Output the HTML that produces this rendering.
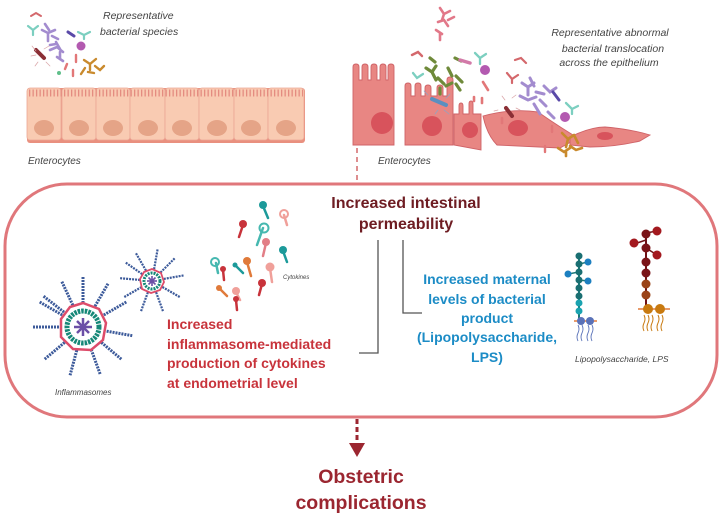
<!DOCTYPE html>
<html><head><meta charset="utf-8"><style>
html,body{margin:0;padding:0;background:#fff;}
svg{display:block;}
text{font-family:"Liberation Sans",Arial,sans-serif;}
.it{font-style:italic;fill:#444;}
</style></head><body>
<svg width="724" height="517" viewBox="0 0 724 517" xmlns="http://www.w3.org/2000/svg">
<defs>
<g id="spk"><line x1="0" y1="-24" x2="0" y2="-50" stroke="#3c5a9a" stroke-width="3" stroke-dasharray="2 1"/></g>
<g id="spks"><line x1="0" y1="-12" x2="0" y2="-33" stroke="#3c5a9a" stroke-width="2.2" stroke-dasharray="2 1"/></g>
</defs>

<!-- LEFT EPITHELIUM -->
<g>
<rect x="27" y="88" width="278" height="55" rx="3" fill="#e9907f"/>
<g fill="#f9cbb2" stroke="#eba795" stroke-width="0.8">
<rect x="27" y="88" width="34" height="52" rx="3"/><rect x="62" y="88" width="34" height="52" rx="3"/>
<rect x="96" y="88" width="34" height="52" rx="3"/><rect x="130" y="88" width="35" height="52" rx="3"/>
<rect x="165" y="88" width="34" height="52" rx="3"/><rect x="199" y="88" width="35" height="52" rx="3"/>
<rect x="234" y="88" width="34" height="52" rx="3"/><rect x="268" y="88" width="36" height="52" rx="3"/>
</g>
<line x1="29" y1="93" x2="303" y2="93" stroke="#e48c80" stroke-width="7" stroke-dasharray="1.3 2.2"/>
<g fill="#e5a487">
<ellipse cx="44" cy="128" rx="10" ry="8"/><ellipse cx="79" cy="128" rx="10" ry="8"/><ellipse cx="113" cy="128" rx="10" ry="8"/><ellipse cx="148" cy="128" rx="10" ry="8"/>
<ellipse cx="182" cy="128" rx="10" ry="8"/><ellipse cx="217" cy="128" rx="10" ry="8"/><ellipse cx="251" cy="128" rx="10" ry="8"/><ellipse cx="286" cy="128" rx="10" ry="8"/>
</g>
</g>
<!-- left bacteria -->
<g stroke-linecap="round" fill="none">
<path d="M31 16 l5 -3 l5 3" stroke="#d4686c" stroke-width="2"/>
<path d="M28 26 l5 4 l5 -4 M33 30 v5" stroke="#7ccfc0" stroke-width="2.2"/>
<path d="M42 30 l6 3 l7 -3 M48 33 v8 M45 24 l4 6 M52 36 l6 3 M56 42 l4 7 M50 45 l6 -1" stroke="#a38ccf" stroke-width="2.6"/>
<path d="M50 50 l7 -3 l6 5 M60 52 v7 M57 57 l6 4" stroke="#a38ccf" stroke-width="2.6"/>
<path d="M68 32 l6 4" stroke="#5a4aa8" stroke-width="3"/>
<path d="M78 32 l6 3 l6 -3 M84 35 v4" stroke="#7ccfc0" stroke-width="2.2"/>
<path d="M36 50 l8 8" stroke="#8b2f35" stroke-width="4"/>
<path d="M32 46 l4 5 M46 62 l4 4 M31 56 l5 -1 M44 49 l5 -3 M38 62 l-3 4" stroke="#d9a3a6" stroke-width="0.7"/>
<path d="M76 55 v7 M67 64 l-2 5 M73 70 v6" stroke="#e27778" stroke-width="2.4"/>
<path d="M84 60 l6 4 l6 -5 M90 64 v6 M85 68 l-4 6 M95 66 l5 4 l4 -4 M88 72 l6 1" stroke="#c98a2d" stroke-width="2.4"/>
</g>
<circle cx="81" cy="46" r="4.5" fill="#b35ab0"/>
<circle cx="59" cy="73" r="2" fill="#5fbf8a"/>
<text class="it" x="103" y="19" font-size="10.5">Representative</text>
<text class="it" x="100" y="35" font-size="10.5">bacterial species</text>
<text class="it" x="28" y="164" font-size="10">Enterocytes</text>

<!-- RIGHT EPITHELIUM -->
<g fill="#e88683" stroke="#cf6267" stroke-width="0.9">
<path d="M353 145 V67 q0 -3 3 -3 q3 0 3 3 V80 h3 V67 q0 -3 3 -3 q3 0 3 3 V80 h3 V67 q0 -3 3 -3 q3 0 3 3 V80 h3 V67 q0 -3 3 -3 q3 0 3 3 V80 h2 V67 q0 -3 3 -3 q3 0 3 3 V145 Z"/>
<path d="M405 145 V86 q0 -3 3 -3 q3 0 3 3 V96 h4 V86 q0 -3 3 -3 q3 0 3 3 V96 h4 V88 q0 -3 3 -3 q3 0 3 3 V96 h6 V88 q0 -3 3 -3 q3 0 3 3 V96 h4 V80 q0 -3 3 -3 q3 0 3 3 V145 Z"/>
<path d="M454 145 V114 h5 V106 q0 -3 2 -3 q2 0 2 3 V114 h6 V104 q0 -3 2 -3 q2 0 2 3 V114 h8 V150 Z"/>
<path d="M483 116 q30 -8 55 -4 q20 14 40 26 L560 148 L497 145 q-10 -10 -14 -29 Z"/>
<path d="M570 137 q20 -10 35 -10 q25 2 45 8 l-10 6 q-25 6 -50 6 l-20 -2 Z"/>
</g>
<g fill="#d8535c">
<circle cx="382" cy="123" r="11"/><circle cx="432" cy="126" r="10"/><circle cx="470" cy="130" r="8"/><ellipse cx="518" cy="128" rx="10" ry="8"/><ellipse cx="605" cy="136" rx="8" ry="4"/>
</g>
<line x1="357" y1="148" x2="357" y2="183" stroke="#d4686c" stroke-width="1.5" stroke-dasharray="5 4"/>
<!-- right bacteria -->
<g stroke-linecap="round" fill="none">
<path d="M440 8 l4 6 l6 -3 M444 14 l-2 6 M438 22 l6 -2 l4 6 M448 20 l6 -3 M436 30 l6 4 M440 34 v6" stroke="#e27889" stroke-width="2.6"/>
<path d="M412 55 l6 -3 l4 4" stroke="#d4686c" stroke-width="2.4"/>
<path d="M430 58 l5 4 M455 58 l6 3 M426 68 l6 4 l4 -6 M432 72 l4 8 M438 78 l6 6 M448 68 l4 8 M446 86 l6 -3 M456 84 l4 6 M440 88 v6 M456 76 l6 6" stroke="#6f8a3a" stroke-width="3.2"/>
<path d="M460 60 l10 3" stroke="#d27aa8" stroke-width="3.5"/>
<path d="M475 53 l5 5 l6 -4 M480 58 v6" stroke="#7ccfc0" stroke-width="2.3"/>
<path d="M413 73 l4 5 l6 -4" stroke="#7ccfc0" stroke-width="2.3"/>
<path d="M483 82 l5 8 M474 97 v4 M482 98 v5 M502 118 v5" stroke="#e27778" stroke-width="2.6"/>
<path d="M432 99 l14 6" stroke="#5a8fc0" stroke-width="4"/>
<path d="M428 95 l-4 -4 M438 110 l-3 4 M446 98 l4 -4 M444 110 l5 4" stroke="#8aa6c7" stroke-width="0.7"/>
<path d="M515 60 l6 -2 l5 5 M507 73 l5 6 l6 -4 M512 79 v4" stroke="#d4686c" stroke-width="2.2"/>
<path d="M522 83 l6 4 l6 -4 M528 87 v8 M530 78 l4 8 M520 96 l8 4 l8 -3 M536 92 l8 2 M540 100 l6 6 M534 104 l6 10 M544 86 l6 6 l6 -4 M548 112 l6 6" stroke="#a38ccf" stroke-width="3"/>
<path d="M553 92 l6 8" stroke="#5a4aa8" stroke-width="3"/>
<path d="M566 103 l6 6 l6 -3 M572 109 v5" stroke="#7ccfc0" stroke-width="2.3"/>
<path d="M506 108 l6 8" stroke="#8b2f35" stroke-width="4"/>
<path d="M505 100 l-3 -4 M512 98 l4 -3 M498 110 l-4 1 M516 108 l4 2" stroke="#d9a3a6" stroke-width="0.7"/>
<path d="M552 126 v6 M545 146 v6" stroke="#e27778" stroke-width="2.4"/>
<path d="M562 133 l6 6 l6 -4 M568 139 l-2 8 M558 148 l6 4 l6 -4 M570 146 l6 4 l6 -2 M574 135 l4 8 M566 152 v4" stroke="#c98a2d" stroke-width="2.6"/>
</g>
<circle cx="485" cy="70" r="5" fill="#b35ab0"/><circle cx="565" cy="117" r="5" fill="#b35ab0"/>
<text class="it" x="610" y="36" font-size="10.5" text-anchor="middle">Representative abnormal</text>
<text class="it" x="613" y="52" font-size="10.5" text-anchor="middle">bacterial translocation</text>
<text class="it" x="609" y="66" font-size="10.5" text-anchor="middle">across the epithelium</text>
<text class="it" x="378" y="164" font-size="10">Enterocytes</text>

<!-- BIG BOX -->
<rect x="5" y="184" width="712" height="233" rx="62" fill="none" stroke="#e0777b" stroke-width="3"/>

<text x="406" y="208" font-size="16" font-weight="bold" fill="#6e1c22" text-anchor="middle">Increased intestinal</text>
<text x="406" y="229" font-size="16" font-weight="bold" fill="#6e1c22" text-anchor="middle">permeability</text>
<path d="M378 240 V353 H359" stroke="#555" stroke-width="1.3" fill="none"/>
<path d="M403 240 V313 H422" stroke="#555" stroke-width="1.3" fill="none"/>

<g font-size="14" font-weight="bold" fill="#1c8cc6" text-anchor="middle">
<text x="487" y="284">Increased maternal</text>
<text x="487" y="304">levels of bacterial</text>
<text x="487" y="323">product</text>
<text x="487" y="342">(Lipopolysaccharide,</text>
<text x="487" y="362">LPS)</text>
</g>
<g font-size="14" font-weight="bold" fill="#c8333b">
<text x="167" y="329">Increased</text>
<text x="167" y="349">inflammasome-mediated</text>
<text x="167" y="368">production of cytokines</text>
<text x="167" y="388">at endometrial level</text>
</g>

<!-- inflammasomes -->
<g transform="translate(83 327)">
<use href="#spk" transform="rotate(0)"/><use href="#spk" transform="rotate(-25)"/><use href="#spk" transform="rotate(30)"/><use href="#spk" transform="rotate(60)"/><use href="#spk" transform="rotate(100)"/><use href="#spk" transform="rotate(130)"/><use href="#spk" transform="rotate(160)"/><use href="#spk" transform="rotate(195)"/><use href="#spk" transform="rotate(230)"/><use href="#spk" transform="rotate(270)"/><use href="#spk" transform="rotate(300)"/><use href="#spk" transform="rotate(-52)"/>
<polygon points="0,-24 16,-18 23,-4 20,13 8,23 -10,22 -22,10 -22,-8 -13,-20" fill="#fff" stroke="#dd4c6a" stroke-width="2.5"/>
<circle r="16" fill="none" stroke="#168878" stroke-width="5" stroke-dasharray="2.5 1"/>
<circle r="12" fill="#fff"/>
<g stroke="#6b4fa6" stroke-width="2.5"><line x1="-9" y1="0" x2="9" y2="0"/><line x1="0" y1="-9" x2="0" y2="9"/><line x1="-6" y1="-6" x2="6" y2="6"/><line x1="-6" y1="6" x2="6" y2="-6"/></g>
</g>
<g transform="translate(152 281)">
<use href="#spks" transform="rotate(-30)"/><use href="#spks" transform="rotate(10)"/><use href="#spks" transform="rotate(45)"/><use href="#spks" transform="rotate(80)"/><use href="#spks" transform="rotate(120)"/><use href="#spks" transform="rotate(160)"/><use href="#spks" transform="rotate(200)"/><use href="#spks" transform="rotate(240)"/><use href="#spks" transform="rotate(275)"/><use href="#spks" transform="rotate(305)"/>
<polygon points="0,-12 9,-8 12,1 8,9 -1,12 -10,8 -12,-2 -8,-9" fill="#fff" stroke="#dd4c6a" stroke-width="1.8"/>
<circle r="8" fill="none" stroke="#168878" stroke-width="3" stroke-dasharray="2 1"/>
<g stroke="#6b4fa6" stroke-width="1.6"><line x1="-5" y1="0" x2="5" y2="0"/><line x1="0" y1="-5" x2="0" y2="5"/><line x1="-3.5" y1="-3.5" x2="3.5" y2="3.5"/><line x1="-3.5" y1="3.5" x2="3.5" y2="-3.5"/></g>
</g>
<text class="it" x="55" y="395" font-size="8">Inflammasomes</text>

<!-- cytokines -->
<g stroke-linecap="round" stroke-width="2.5" fill="none">
<path d="M263 206 l5 12" stroke="#1c9a9a"/><path d="M243 225 l-4 12" stroke="#c8333b"/>
<path d="M263 228 l-6 17" stroke="#46b8b0"/><path d="M266 243 l-3 13" stroke="#e27e86"/>
<path d="M283 251 l4 11" stroke="#1c9a9a"/><path d="M284 215 l3 10" stroke="#f0a09a"/>
<path d="M216 263 l2 10" stroke="#46b8b0"/><path d="M223 270 l1 10" stroke="#c8333b"/>
<path d="M236 266 l7 7" stroke="#1c9a9a"/><path d="M247 262 l4 14" stroke="#e07a3a"/>
<path d="M270 268 l2 14" stroke="#f0a09a"/><path d="M262 284 l-3 11" stroke="#c8333b"/>
<path d="M220 289 l7 7" stroke="#e07a3a"/><path d="M236 292 l4 8" stroke="#f0a09a"/><path d="M236 300 l1 10" stroke="#c8333b"/>
</g>
<g>
<circle cx="263" cy="205" r="4" fill="#1c9a9a"/><circle cx="243" cy="224" r="4" fill="#c8333b"/>
<circle cx="264" cy="228" r="4.5" fill="none" stroke="#46b8b0" stroke-width="2"/><circle cx="266" cy="242" r="4" fill="#e27e86"/>
<circle cx="283" cy="250" r="4" fill="#1c9a9a"/><circle cx="284" cy="214" r="4" fill="none" stroke="#f0a09a" stroke-width="2"/>
<circle cx="215" cy="262" r="4" fill="none" stroke="#46b8b0" stroke-width="2"/><circle cx="223" cy="269" r="3" fill="#c8333b"/>
<circle cx="235" cy="265" r="2.5" fill="#1c9a9a"/><circle cx="247" cy="261" r="4" fill="#e07a3a"/>
<circle cx="270" cy="267" r="4.5" fill="#f0a09a"/><circle cx="262" cy="283" r="4" fill="#c8333b"/>
<circle cx="219" cy="288" r="3" fill="#e07a3a"/><circle cx="236" cy="291" r="4" fill="#f0a09a"/><circle cx="236" cy="299" r="3" fill="#c8333b"/>
</g>
<text class="it" x="283" y="279" font-size="6">Cytokines</text>

<!-- LPS small -->
<g>
<line x1="579" y1="256" x2="579" y2="320" stroke="#1a7777" stroke-width="2"/>
<line x1="579" y1="264" x2="588" y2="262" stroke="#1a7777" stroke-width="1.5"/><line x1="579" y1="272" x2="568" y2="274" stroke="#1a7777" stroke-width="1.5"/><line x1="579" y1="280" x2="588" y2="281" stroke="#1a7777" stroke-width="1.5"/>
<g fill="#1a6f72"><circle cx="579" cy="256" r="3.5"/><circle cx="579" cy="264" r="3.5"/><circle cx="579" cy="272" r="3.5"/><circle cx="579" cy="280" r="3.5"/><circle cx="579" cy="288" r="3.5"/><circle cx="579" cy="296" r="3.5"/></g>
<g fill="#1c7fc0"><circle cx="588" cy="262" r="3.5"/><circle cx="568" cy="274" r="3.5"/><circle cx="588" cy="281" r="3.5"/></g>
<g fill="#1aa3b0"><circle cx="579" cy="303" r="3.5"/><circle cx="579" cy="311" r="3.5"/></g>
<line x1="574" y1="321" x2="597" y2="321" stroke="#e07a3a" stroke-width="1.5"/>
<circle cx="581" cy="321" r="4" fill="#5a72b8"/><circle cx="590" cy="321" r="4" fill="#5a72b8"/>
<path d="M578 325 q2 4 0 8 q-2 4 0 8 M582 325 q2 4 0 8 q-2 4 0 8 M588 325 q2 4 0 8 q-2 4 0 8 M592 325 q2 4 0 8 q-2 4 0 8" stroke="#5a72b8" stroke-width="0.9" fill="none"/>
</g>
<!-- LPS large -->
<g>
<line x1="646" y1="233" x2="646" y2="309" stroke="#6e1216" stroke-width="2"/>
<line x1="646" y1="240" x2="634" y2="244" stroke="#6e1216" stroke-width="1.5"/><line x1="646" y1="248" x2="657" y2="255" stroke="#6e1216" stroke-width="1.5"/><line x1="646" y1="233" x2="657" y2="231" stroke="#6e1216" stroke-width="1.5"/>
<g fill="#7a1418"><circle cx="646" cy="234" r="4.5"/><circle cx="646" cy="248" r="4.5"/><circle cx="646" cy="262" r="4.5"/><circle cx="646" cy="273" r="4.5"/></g>
<g fill="#a3191f"><circle cx="657" cy="231" r="4.5"/><circle cx="634" cy="243" r="4.5"/><circle cx="657" cy="255" r="4.5"/></g>
<g fill="#9a4418"><circle cx="646" cy="284" r="4.5"/><circle cx="646" cy="295" r="4.5"/></g>
<line x1="638" y1="309" x2="670" y2="309" stroke="#e07a3a" stroke-width="1.5"/>
<circle cx="648" cy="309" r="5" fill="#c87a10"/><circle cx="660" cy="309" r="5" fill="#c87a10"/>
<path d="M644 315 q2 4 0 8 q-2 4 0 8 M648 315 q2 4 0 8 q-2 4 0 8 M652 315 q2 4 0 8 q-2 4 0 8 M658 315 q2 4 0 8 q-2 4 0 8 M662 315 q2 4 0 8 q-2 4 0 8" stroke="#c87a10" stroke-width="1" fill="none"/>
</g>
<text class="it" x="575" y="362" font-size="8.5">Lipopolysaccharide, LPS</text>

<!-- arrow -->
<line x1="357" y1="419" x2="357" y2="442" stroke="#9b2630" stroke-width="3" stroke-dasharray="5 3"/>
<polygon points="349,443 365,443 357,457" fill="#9b2630"/>
<text x="361" y="483" font-size="19.5" font-weight="bold" fill="#9b2630" text-anchor="middle">Obstetric</text>
<text x="361" y="509" font-size="19.5" font-weight="bold" fill="#9b2630" text-anchor="middle">complications</text>
</svg>
</body></html>
